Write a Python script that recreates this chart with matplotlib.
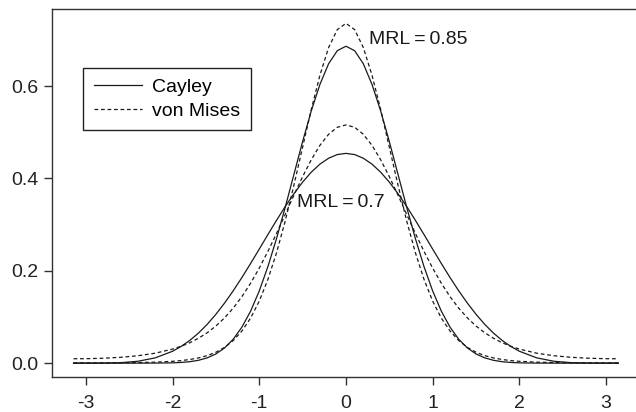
import matplotlib
matplotlib.use("Agg")
import matplotlib.pyplot as plt

plt.rcParams['font.family'] = ['Liberation Sans', 'DejaVu Sans']

# angle grid (radians), densities
theta = [-3.1416, -3.0, -2.8, -2.6, -2.4, -2.2, -2.0, -1.9, -1.8, -1.7, -1.6,
         -1.5, -1.4, -1.3, -1.2, -1.1, -1.0, -0.9, -0.8, -0.7, -0.6, -0.5,
         -0.4, -0.3, -0.2, -0.1, 0.0, 0.1, 0.2, 0.3, 0.4, 0.5, 0.6, 0.7, 0.8,
         0.9, 1.0, 1.1, 1.2, 1.3, 1.4, 1.5, 1.6, 1.7, 1.8, 1.9, 2.0, 2.2, 2.4,
         2.6, 2.8, 3.0, 3.1416]

cayley_07 = [0.0, 0.0, 0.0001, 0.0010, 0.0040, 0.0114, 0.0257, 0.0363, 0.0494,
             0.0653, 0.0841, 0.1058, 0.1301, 0.1568, 0.1855, 0.2158, 0.2470,
             0.2786, 0.3096, 0.3394, 0.3671, 0.3921, 0.4137, 0.4311, 0.4439,
             0.4518, 0.4544, 0.4518, 0.4439, 0.4311, 0.4137, 0.3921, 0.3671,
             0.3394, 0.3096, 0.2786, 0.2470, 0.2158, 0.1855, 0.1568, 0.1301,
             0.1058, 0.0841, 0.0653, 0.0494, 0.0363, 0.0257, 0.0114, 0.0040,
             0.0010, 0.0001, 0.0, 0.0]

cayley_085 = [0.0, 0.0, 0.0, 0.0, 0.0, 0.0001, 0.0006, 0.0015, 0.0031, 0.0062,
              0.0114, 0.0199, 0.0329, 0.0518, 0.0780, 0.1125, 0.1563, 0.2092,
              0.2703, 0.3379, 0.4090, 0.4800, 0.5464, 0.6040, 0.6486, 0.6768,
              0.6865, 0.6768, 0.6486, 0.6040, 0.5464, 0.4800, 0.4090, 0.3379,
              0.2703, 0.2092, 0.1563, 0.1125, 0.0780, 0.0518, 0.0329, 0.0199,
              0.0114, 0.0062, 0.0031, 0.0015, 0.0006, 0.0001, 0.0, 0.0, 0.0,
              0.0, 0.0]

vonmises_07 = [0.0095, 0.0096, 0.0106, 0.0126, 0.0160, 0.0215, 0.0304, 0.0366,
               0.0443, 0.0540, 0.0659, 0.0804, 0.0981, 0.1192, 0.1441, 0.1730,
               0.2058, 0.2421, 0.2813, 0.3224, 0.3639, 0.4039, 0.4406, 0.4719,
               0.4958, 0.5109, 0.5160, 0.5109, 0.4958, 0.4719, 0.4406, 0.4039,
               0.3639, 0.3224, 0.2813, 0.2421, 0.2058, 0.1730, 0.1441, 0.1192,
               0.0981, 0.0804, 0.0659, 0.0540, 0.0443, 0.0366, 0.0304, 0.0215,
               0.0160, 0.0126, 0.0106, 0.0096, 0.0095]

vonmises_085 = [0.0005, 0.0005, 0.0006, 0.0008, 0.0012, 0.0021, 0.0039, 0.0055,
                0.0079, 0.0113, 0.0163, 0.0236, 0.0341, 0.0490, 0.0696, 0.0975,
                0.1343, 0.1815, 0.2396, 0.3083, 0.3857, 0.4679, 0.5496, 0.6239,
                0.6837, 0.7225, 0.7360, 0.7225, 0.6837, 0.6239, 0.5496, 0.4679,
                0.3857, 0.3083, 0.2396, 0.1815, 0.1343, 0.0975, 0.0696, 0.0490,
                0.0341, 0.0236, 0.0163, 0.0113, 0.0079, 0.0055, 0.0039, 0.0021,
                0.0012, 0.0008, 0.0006, 0.0005, 0.0005]

xticks = [-3, -2, -1, 0, 1, 2, 3]
yticks = [0.0, 0.2, 0.4, 0.6]

fig = plt.figure(figsize=(6.36, 4.12), dpi=100)
ax = fig.add_axes([0.0818, 0.085, 0.9182, 0.893])

ink = '#1a1a1a'
dash = (0, (3.0, 2.2))
ax.plot(theta, cayley_07, color=ink, lw=0.9, label='Cayley')
ax.plot(theta, cayley_085, color=ink, lw=0.9)
ax.plot(theta, vonmises_07, color=ink, lw=0.9, linestyle=dash, label='von Mises')
ax.plot(theta, vonmises_085, color=ink, lw=0.9, linestyle=dash)

ax.text(0.265, 0.702, 'MRL\u2009=\u20090.85', fontsize=14, va='center', ha='left', color=ink)
ax.text(-0.565, 0.349, 'MRL\u2009=\u20090.7', fontsize=14, va='center', ha='left', color=ink)

ax.set_xlim(-3.39, 3.345)
ax.set_ylim(-0.030, 0.767)
ax.set_xticks(xticks)
ax.set_xticklabels([str(t) for t in xticks])
ax.set_yticks(yticks)
ax.set_yticklabels(['%.1f' % t for t in yticks])
ax.tick_params(direction='out', length=6, width=1, color='#333333',
               labelsize=14, labelcolor='#222222', pad=4)
ax.tick_params(axis='x', pad=7)
ax.spines['right'].set_visible(False)
for s in ['left', 'top', 'bottom']:
    ax.spines[s].set_linewidth(1.0)
    ax.spines[s].set_color('#333333')

leg = ax.legend(loc='upper left', bbox_to_anchor=(0.053, 0.84), borderaxespad=0,
                fancybox=False, edgecolor='#222222', fontsize=14,
                handlelength=2.5, handletextpad=0.5, borderpad=0.55,
                labelspacing=0.3, framealpha=1)
leg.get_frame().set_linewidth(1.0)

fig.savefig('out.png', dpi=100)
